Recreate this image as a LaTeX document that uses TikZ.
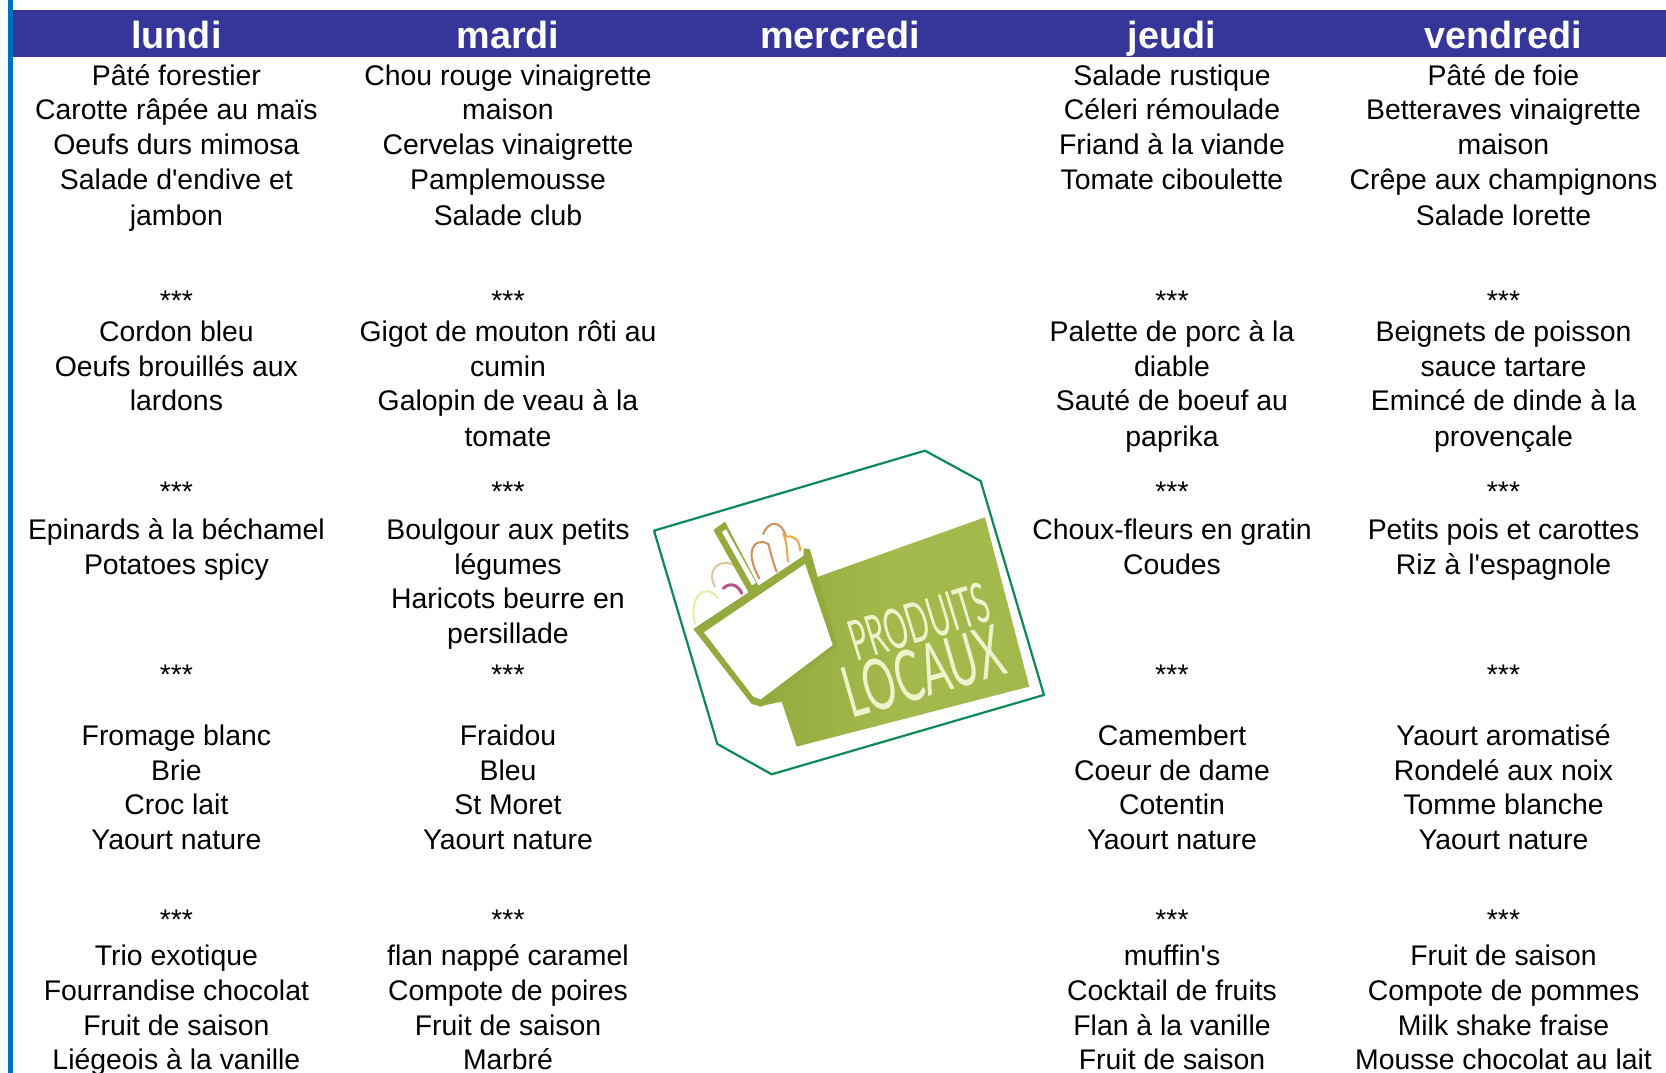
\documentclass[tikz,border=0pt]{standalone}
\usepackage{fontspec}
\newfontfamily\menufont{Liberation Sans}
\newfontfamily\logofont{Lato}
\definecolor{headblue}{HTML}{35359A}
\definecolor{barblue}{HTML}{0070C0}
\definecolor{logogreen}{HTML}{0B8A55}
\definecolor{olive}{HTML}{A3B94C}
\definecolor{olivedark}{HTML}{95AA3E}
\definecolor{logotext}{HTML}{EEF3CC}
\definecolor{fruityellow}{HTML}{ECEBA0}
\definecolor{fruittan}{HTML}{DCC896}
\definecolor{fruitpink}{HTML}{B8508E}
\definecolor{fruitorange}{HTML}{CC8F58}
\definecolor{fruitamber}{HTML}{E8A848}
\tikzset{
  dish/.style={anchor=base,inner sep=0pt,text=black,font=\menufont\fontsize{28.4}{34}\selectfont},
  dayname/.style={anchor=base,inner sep=0pt,text=white,font=\menufont\fontsize{37.8}{40}\selectfont\bfseries},
  logoframe/.style={draw=logogreen,line width=2.2pt,fill=white,line join=round},
  logoword/.style={inner sep=0pt,text=logotext},
  fruit/.style={line width=2pt,line cap=round},
}
\newcommand{\menucolumn}[3]{%
  \foreach \yy/\tt [count=\ii] in {#3}{
    \node[dish] (#1-\ii) at (#2,\yy) {\tt};
  }}
\begin{document}
\begin{tikzpicture}[x=1pt,y=-1pt]
\useasboundingbox (0,0) rectangle (1666,1073);
\fill[white] (0,0) rectangle (1666,1073);
\fill[barblue] (8,0) rectangle (13,1073);
\fill[headblue] (13,10) rectangle (1666,57);
\node[dayname] (lundi) at (176.4,48.3) {lundi};
\node[dayname] (mardi) at (508,48.3) {mardi};
\node[dayname] (mercredi) at (840,48.3) {mercredi};
\node[dayname] (jeudi) at (1172,48.3) {jeudi};
\node[dayname] (vendredi) at (1503.5,48.3) {vendredi};
\menucolumn{lun}{176.4}{85.5/Pâté forestier,119.5/Carotte râpée au maïs,154.5/Oeufs durs mimosa,189.5/Salade d'endive et,225/jambon,
 310.5/***,
 341.5/Cordon bleu,376/Oeufs brouillés aux,410.5/lardons,
 501/***,
 539.5/Epinards à la béchamel,574.5/Potatoes spicy,
 684/***,
 745.5/Fromage blanc,780.5/Brie,814.5/Croc lait,849.5/Yaourt nature,
 929/***,
 965.5/Trio exotique,1000/Fourrandise chocolat,1035/Fruit de saison,1069/Liégeois à la vanille}
\menucolumn{mar}{508}{85.5/Chou rouge vinaigrette,119.5/maison,154.5/Cervelas vinaigrette,189.5/Pamplemousse,225/Salade club,
 310.5/***,
 341.5/Gigot de mouton rôti au,376/cumin,410.5/Galopin de veau à la,446/tomate,
 501/***,
 539.5/Boulgour aux petits,574.5/légumes,608.5/Haricots beurre en,643.5/persillade,
 684/***,
 745.5/Fraidou,780.5/Bleu,814.5/St Moret,849.5/Yaourt nature,
 929/***,
 965.5/flan nappé caramel,1000/Compote de poires,1035/Fruit de saison,1069/Marbré}
\menucolumn{jeu}{1172}{85.5/Salade rustique,119.5/Céleri rémoulade,154.5/Friand à la viande,189.5/Tomate ciboulette,
 310.5/***,
 341.5/Palette de porc à la,376/diable,410.5/Sauté de boeuf au,446/paprika,
 501/***,
 539.5/Choux-fleurs en gratin,574.5/Coudes,
 684/***,
 745.5/Camembert,780.5/Coeur de dame,814.5/Cotentin,849.5/Yaourt nature,
 929/***,
 965.5/muffin's,1000/Cocktail de fruits,1035/Flan à la vanille,1069/Fruit de saison}
\menucolumn{ven}{1503.5}{85.5/Pâté de foie,119.5/Betteraves vinaigrette,154.5/maison,189.5/Crêpe aux champignons,225/Salade lorette,
 310.5/***,
 341.5/Beignets de poisson,376/sauce tartare,410.5/Emincé de dinde à la,446/provençale,
 501/***,
 539.5/Petits pois et carottes,574.5/Riz à l'espagnole,
 684/***,
 745.5/Yaourt aromatisé,780.5/Rondelé aux noix,814.5/Tomme blanche,849.5/Yaourt nature,
 929/***,
 965.5/Fruit de saison,1000/Compote de pommes,1035/Milk shake fraise,1069/Mousse chocolat au lait}
% logo, in 3x crop coordinates
\begin{scope}[shift={(640,430)},x=.3333pt,y=-.3333pt]
\draw[logoframe] (42,302) -- (855,62) -- (1022,153) -- (1212,795) -- (395,1033) -- (232,942) -- cycle;
\shade[left color=olivedark,right color=olive,middle color=olive] (535,440) -- (1035,262) -- (1168,770) -- (470,950) -- (425,815) -- (355,830) -- cycle;
% contents
\draw[fruit,draw=fruityellow] (165,580) .. controls (145,510) and (190,450) .. (235,505);
\draw[fruit,draw=fruittan] (225,470) .. controls (195,415) and (245,380) .. (290,410);
\draw[fruit,draw=fruitpink,line width=3pt] (250,475) .. controls (270,455) and (295,465) .. (305,490);
\draw[fruit,draw=fruitorange] (358,445) .. controls (310,360) and (345,320) .. (385,342) .. controls (395,380) and (400,400) .. (410,425);
\draw[fruit,draw=fruitorange] (370,312) .. controls (385,270) and (425,270) .. (438,320);
\draw[fruit,draw=fruitamber] (430,310) .. controls (445,350) and (440,380) .. (445,395);
\draw[fruit,draw=fruitamber] (440,320) .. controls (465,315) and (480,335) .. (480,362);
% handle
\fill[olivedark] (220,300) -- (255,275) -- (358,472) -- (330,495) -- cycle;
\fill[white] (246,306) -- (258,298) -- (348,458) -- (336,466) -- cycle;
% basket
\fill[olivedark] (160,597) -- (490,378) -- (492,355) -- (510,358) -- (592,650) -- (365,830) -- (335,822) -- cycle;
\fill[white] (192,607) -- (495,402) -- (578,645) -- (362,808) -- (340,800) -- cycle;
\node[logoword,rotate=17] (produits) at (838,575) {\scalebox{.68}[1.3]{\logofont\fontsize{43}{43}\selectfont PRODUITS}};
\node[logoword,rotate=16] (locaux) at (850,725) {\scalebox{.72}[1.25]{\logofont\fontsize{57}{57}\selectfont LOCAUX}};
\end{scope}
\end{tikzpicture}
\end{document}
